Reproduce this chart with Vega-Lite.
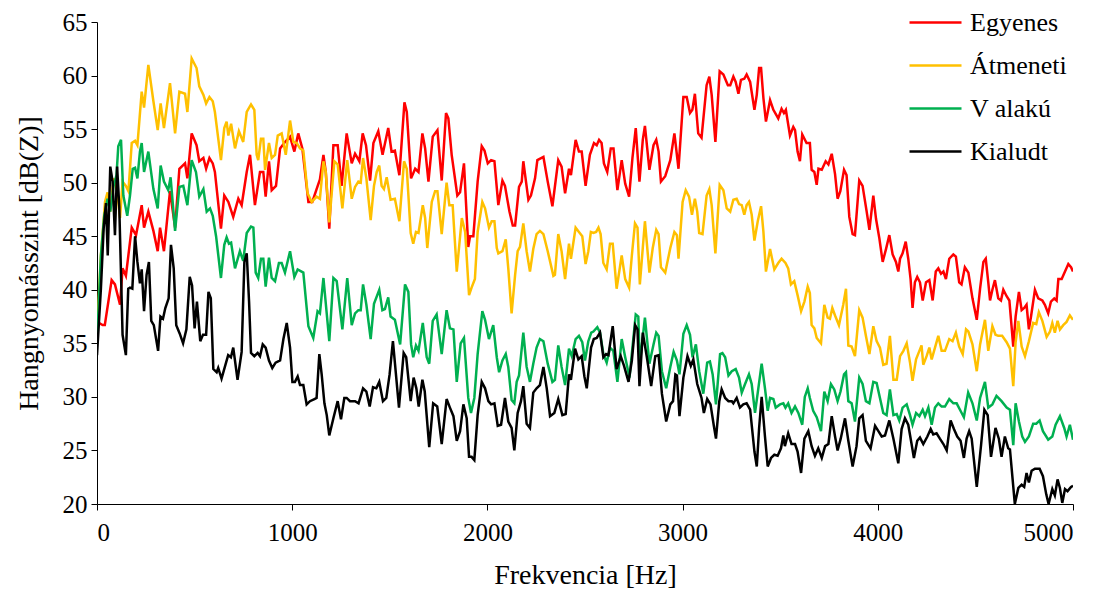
{
"$schema":"https://vega.github.io/schema/vega-lite/v6.json",
"width":976,"height":482,
"autosize":{"type":"none"},
"padding":{"left":97,"top":22,"right":33,"bottom":85},
"background":"white",
"config":{"view":{"stroke":null},"font":"Liberation Serif",
"style":{"guide-label":{"font":"Liberation Serif"},"guide-title":{"font":"Liberation Serif"}},
"axis":{"domainColor":"#000000","tickColor":"#000000","tickSize":6,"labelFont":"Liberation Serif","titleFont":"Liberation Serif","labelFontSize":25,"titleFontSize":28,"labelColor":"#000000","titleColor":"#000000","titleFontWeight":"normal","labelPadding":4,"grid":false},
"legend":{"orient":"none","legendX":811,"legendY":-27,"symbolType":"stroke","symbolSize":2704,"symbolStrokeWidth":2.5,"labelFont":"Liberation Serif","labelFontSize":26,"labelColor":"#000000","labelOffset":7,"padding":0,"title":null}},
"datasets":{
"E":[{"f":0,"v":37.0},{"f":29,"v":36.7},{"f":40,"v":36.7},{"f":75,"v":40.9},{"f":92,"v":40.5},{"f":118,"v":38.6},{"f":131,"v":42.0},{"f":148,"v":41.3},{"f":178,"v":45.8},{"f":200,"v":45.1},{"f":229,"v":47.9},{"f":241,"v":45.8},{"f":263,"v":47.3},{"f":289,"v":45.5},{"f":311,"v":43.6},{"f":323,"v":45.8},{"f":343,"v":43.6},{"f":374,"v":49.2},{"f":400,"v":45.8},{"f":422,"v":51.3},{"f":451,"v":51.8},{"f":463,"v":50.4},{"f":485,"v":54.6},{"f":510,"v":53.5},{"f":524,"v":52.0},{"f":545,"v":52.3},{"f":559,"v":51.3},{"f":576,"v":52.3},{"f":593,"v":51.8},{"f":604,"v":51.0},{"f":635,"v":45.7},{"f":652,"v":48.8},{"f":673,"v":48.2},{"f":698,"v":46.8},{"f":724,"v":48.5},{"f":741,"v":47.9},{"f":767,"v":51.0},{"f":784,"v":52.6},{"f":809,"v":47.9},{"f":835,"v":51.0},{"f":852,"v":51.0},{"f":864,"v":48.7},{"f":881,"v":52.0},{"f":895,"v":49.3},{"f":917,"v":49.7},{"f":938,"v":53.2},{"f":963,"v":53.8},{"f":989,"v":54.3},{"f":1011,"v":52.9},{"f":1031,"v":54.6},{"f":1052,"v":53.2},{"f":1083,"v":48.2},{"f":1103,"v":48.2},{"f":1125,"v":49.4},{"f":1142,"v":50.3},{"f":1160,"v":52.6},{"f":1172,"v":51.0},{"f":1190,"v":45.7},{"f":1211,"v":53.5},{"f":1233,"v":53.5},{"f":1253,"v":49.7},{"f":1279,"v":54.6},{"f":1305,"v":51.8},{"f":1322,"v":52.7},{"f":1344,"v":52.0},{"f":1361,"v":54.6},{"f":1378,"v":53.5},{"f":1399,"v":50.2},{"f":1416,"v":53.7},{"f":1441,"v":54.8},{"f":1463,"v":52.6},{"f":1492,"v":55.1},{"f":1509,"v":52.9},{"f":1526,"v":53.0},{"f":1549,"v":50.7},{"f":1575,"v":57.5},{"f":1587,"v":56.6},{"f":1609,"v":50.4},{"f":1630,"v":51.3},{"f":1647,"v":51.0},{"f":1667,"v":54.6},{"f":1681,"v":53.2},{"f":1698,"v":50.1},{"f":1720,"v":54.3},{"f":1744,"v":54.9},{"f":1766,"v":50.2},{"f":1788,"v":56.5},{"f":1800,"v":56.0},{"f":1817,"v":52.6},{"f":1846,"v":48.8},{"f":1860,"v":49.1},{"f":1880,"v":51.8},{"f":1902,"v":44.0},{"f":1911,"v":45.0},{"f":1928,"v":45.0},{"f":1950,"v":50.1},{"f":1971,"v":53.4},{"f":1985,"v":53.0},{"f":2002,"v":51.8},{"f":2019,"v":52.1},{"f":2036,"v":52.0},{"f":2056,"v":47.9},{"f":2077,"v":50.2},{"f":2090,"v":49.7},{"f":2113,"v":47.3},{"f":2130,"v":46.0},{"f":2142,"v":46.0},{"f":2162,"v":49.6},{"f":2176,"v":50.1},{"f":2184,"v":52.0},{"f":2210,"v":48.4},{"f":2223,"v":48.8},{"f":2244,"v":50.4},{"f":2256,"v":52.1},{"f":2287,"v":52.4},{"f":2309,"v":50.1},{"f":2333,"v":47.8},{"f":2363,"v":52.1},{"f":2380,"v":51.5},{"f":2398,"v":49.0},{"f":2418,"v":51.3},{"f":2428,"v":50.7},{"f":2452,"v":54.0},{"f":2469,"v":52.9},{"f":2483,"v":52.9},{"f":2503,"v":49.7},{"f":2525,"v":52.6},{"f":2546,"v":53.7},{"f":2560,"v":53.5},{"f":2572,"v":54.0},{"f":2585,"v":53.7},{"f":2597,"v":51.8},{"f":2614,"v":51.0},{"f":2632,"v":53.2},{"f":2646,"v":53.2},{"f":2666,"v":49.3},{"f":2688,"v":52.1},{"f":2706,"v":49.9},{"f":2726,"v":48.7},{"f":2743,"v":52.3},{"f":2760,"v":55.1},{"f":2779,"v":50.1},{"f":2796,"v":54.0},{"f":2807,"v":55.3},{"f":2830,"v":51.2},{"f":2851,"v":53.5},{"f":2865,"v":54.0},{"f":2877,"v":52.9},{"f":2889,"v":50.1},{"f":2911,"v":50.6},{"f":2937,"v":52.1},{"f":2958,"v":54.6},{"f":2979,"v":51.3},{"f":3004,"v":58.0},{"f":3021,"v":58.0},{"f":3038,"v":56.5},{"f":3050,"v":56.8},{"f":3063,"v":58.3},{"f":3080,"v":54.6},{"f":3097,"v":54.2},{"f":3123,"v":59.1},{"f":3137,"v":59.9},{"f":3149,"v":58.2},{"f":3168,"v":53.8},{"f":3190,"v":60.4},{"f":3209,"v":60.1},{"f":3232,"v":59.1},{"f":3244,"v":59.1},{"f":3260,"v":59.9},{"f":3272,"v":59.4},{"f":3286,"v":58.3},{"f":3299,"v":59.6},{"f":3316,"v":59.7},{"f":3328,"v":60.1},{"f":3346,"v":59.4},{"f":3368,"v":56.8},{"f":3380,"v":58.2},{"f":3392,"v":60.7},{"f":3402,"v":60.7},{"f":3414,"v":57.9},{"f":3427,"v":55.7},{"f":3448,"v":57.7},{"f":3465,"v":56.8},{"f":3490,"v":56.0},{"f":3507,"v":56.9},{"f":3519,"v":56.5},{"f":3529,"v":56.8},{"f":3550,"v":54.4},{"f":3567,"v":55.2},{"f":3576,"v":54.9},{"f":3589,"v":52.9},{"f":3601,"v":52.0},{"f":3613,"v":54.5},{"f":3635,"v":53.7},{"f":3652,"v":53.7},{"f":3661,"v":51.2},{"f":3675,"v":51.0},{"f":3687,"v":49.8},{"f":3696,"v":51.3},{"f":3713,"v":51.2},{"f":3733,"v":52.0},{"f":3747,"v":51.7},{"f":3764,"v":52.7},{"f":3781,"v":50.8},{"f":3794,"v":48.5},{"f":3808,"v":49.2},{"f":3827,"v":51.2},{"f":3840,"v":50.7},{"f":3854,"v":46.8},{"f":3871,"v":45.2},{"f":3883,"v":45.1},{"f":3905,"v":50.2},{"f":3922,"v":49.7},{"f":3943,"v":47.3},{"f":3957,"v":45.6},{"f":3977,"v":48.8},{"f":3991,"v":46.6},{"f":4008,"v":44.8},{"f":4025,"v":42.6},{"f":4042,"v":43.8},{"f":4059,"v":45.1},{"f":4076,"v":43.3},{"f":4093,"v":42.6},{"f":4105,"v":41.7},{"f":4114,"v":42.9},{"f":4127,"v":43.4},{"f":4143,"v":44.5},{"f":4156,"v":42.9},{"f":4168,"v":41.0},{"f":4178,"v":38.3},{"f":4190,"v":40.7},{"f":4202,"v":41.2},{"f":4216,"v":40.7},{"f":4230,"v":39.0},{"f":4247,"v":40.7},{"f":4264,"v":40.9},{"f":4281,"v":39.0},{"f":4297,"v":41.7},{"f":4310,"v":42.0},{"f":4324,"v":41.5},{"f":4336,"v":41.7},{"f":4349,"v":41.0},{"f":4366,"v":42.9},{"f":4387,"v":43.3},{"f":4400,"v":43.1},{"f":4417,"v":40.7},{"f":4429,"v":40.5},{"f":4446,"v":42.1},{"f":4464,"v":41.6},{"f":4485,"v":39.2},{"f":4507,"v":37.2},{"f":4524,"v":40.1},{"f":4541,"v":42.6},{"f":4553,"v":42.9},{"f":4566,"v":40.7},{"f":4575,"v":39.0},{"f":4587,"v":40.0},{"f":4600,"v":40.9},{"f":4617,"v":39.2},{"f":4631,"v":39.0},{"f":4643,"v":40.0},{"f":4660,"v":39.4},{"f":4674,"v":39.0},{"f":4694,"v":34.7},{"f":4706,"v":37.5},{"f":4723,"v":39.8},{"f":4737,"v":38.1},{"f":4750,"v":38.3},{"f":4762,"v":38.6},{"f":4774,"v":36.3},{"f":4785,"v":37.5},{"f":4805,"v":40.0},{"f":4822,"v":39.2},{"f":4843,"v":39.0},{"f":4856,"v":38.6},{"f":4873,"v":37.8},{"f":4887,"v":38.9},{"f":4904,"v":39.2},{"f":4916,"v":39.0},{"f":4925,"v":41.0},{"f":4942,"v":41.0},{"f":4959,"v":41.7},{"f":4976,"v":42.4},{"f":4990,"v":42.1},{"f":5000,"v":41.7}],
"A":[{"f":0,"v":36.0},{"f":20,"v":43.2},{"f":41,"v":48.2},{"f":54,"v":49.1},{"f":68,"v":47.3},{"f":85,"v":50.4},{"f":103,"v":49.2},{"f":118,"v":46.7},{"f":131,"v":50.1},{"f":148,"v":49.7},{"f":161,"v":49.2},{"f":178,"v":53.7},{"f":195,"v":53.9},{"f":207,"v":53.5},{"f":229,"v":58.5},{"f":241,"v":57.0},{"f":263,"v":61.0},{"f":289,"v":57.6},{"f":311,"v":54.9},{"f":326,"v":57.4},{"f":343,"v":55.1},{"f":374,"v":59.3},{"f":400,"v":54.6},{"f":422,"v":58.5},{"f":451,"v":58.3},{"f":463,"v":56.6},{"f":485,"v":61.6},{"f":510,"v":60.7},{"f":524,"v":59.0},{"f":545,"v":58.2},{"f":559,"v":57.4},{"f":576,"v":58.0},{"f":593,"v":57.6},{"f":604,"v":56.6},{"f":635,"v":52.1},{"f":652,"v":55.1},{"f":664,"v":55.7},{"f":673,"v":54.4},{"f":687,"v":55.5},{"f":707,"v":53.2},{"f":727,"v":54.8},{"f":749,"v":53.8},{"f":767,"v":56.6},{"f":789,"v":57.3},{"f":806,"v":56.8},{"f":818,"v":52.6},{"f":826,"v":52.1},{"f":840,"v":54.1},{"f":852,"v":54.1},{"f":861,"v":51.2},{"f":881,"v":53.7},{"f":895,"v":52.3},{"f":912,"v":52.6},{"f":926,"v":54.4},{"f":946,"v":54.6},{"f":967,"v":52.6},{"f":989,"v":55.8},{"f":1006,"v":53.8},{"f":1023,"v":53.7},{"f":1040,"v":53.2},{"f":1057,"v":53.0},{"f":1079,"v":49.0},{"f":1100,"v":48.2},{"f":1125,"v":48.7},{"f":1142,"v":48.5},{"f":1160,"v":52.0},{"f":1172,"v":51.0},{"f":1190,"v":46.3},{"f":1216,"v":52.0},{"f":1233,"v":51.7},{"f":1257,"v":47.6},{"f":1282,"v":52.1},{"f":1305,"v":48.5},{"f":1322,"v":49.6},{"f":1339,"v":50.1},{"f":1351,"v":50.0},{"f":1363,"v":52.3},{"f":1380,"v":50.4},{"f":1402,"v":46.5},{"f":1419,"v":49.7},{"f":1433,"v":51.0},{"f":1446,"v":51.6},{"f":1458,"v":49.7},{"f":1470,"v":49.4},{"f":1484,"v":50.5},{"f":1504,"v":48.4},{"f":1526,"v":48.5},{"f":1549,"v":46.4},{"f":1573,"v":52.0},{"f":1587,"v":51.3},{"f":1607,"v":45.3},{"f":1620,"v":44.3},{"f":1634,"v":45.4},{"f":1647,"v":45.3},{"f":1669,"v":47.9},{"f":1681,"v":46.7},{"f":1692,"v":43.9},{"f":1715,"v":48.2},{"f":1732,"v":49.2},{"f":1744,"v":49.2},{"f":1766,"v":45.2},{"f":1791,"v":50.0},{"f":1805,"v":47.9},{"f":1822,"v":47.9},{"f":1843,"v":41.7},{"f":1869,"v":46.7},{"f":1886,"v":45.4},{"f":1906,"v":39.5},{"f":1919,"v":40.2},{"f":1936,"v":41.0},{"f":1950,"v":45.4},{"f":1974,"v":48.2},{"f":1988,"v":47.6},{"f":2008,"v":45.8},{"f":2022,"v":46.4},{"f":2036,"v":46.4},{"f":2048,"v":43.9},{"f":2056,"v":43.4},{"f":2077,"v":43.6},{"f":2094,"v":44.7},{"f":2107,"v":42.0},{"f":2124,"v":37.8},{"f":2142,"v":41.4},{"f":2155,"v":43.6},{"f":2167,"v":44.0},{"f":2184,"v":46.2},{"f":2201,"v":43.6},{"f":2218,"v":41.7},{"f":2235,"v":43.8},{"f":2252,"v":45.2},{"f":2269,"v":45.5},{"f":2287,"v":45.2},{"f":2309,"v":43.6},{"f":2338,"v":41.3},{"f":2346,"v":41.4},{"f":2363,"v":45.2},{"f":2380,"v":43.6},{"f":2398,"v":41.0},{"f":2418,"v":44.3},{"f":2428,"v":42.9},{"f":2452,"v":45.8},{"f":2469,"v":45.4},{"f":2486,"v":45.0},{"f":2503,"v":42.4},{"f":2517,"v":43.6},{"f":2530,"v":45.4},{"f":2543,"v":45.3},{"f":2557,"v":45.4},{"f":2569,"v":45.8},{"f":2580,"v":45.2},{"f":2594,"v":42.5},{"f":2611,"v":41.9},{"f":2628,"v":44.3},{"f":2642,"v":44.3},{"f":2662,"v":40.1},{"f":2688,"v":43.2},{"f":2706,"v":41.0},{"f":2726,"v":40.2},{"f":2740,"v":43.2},{"f":2756,"v":46.2},{"f":2769,"v":45.8},{"f":2781,"v":40.5},{"f":2796,"v":43.9},{"f":2807,"v":46.4},{"f":2830,"v":41.6},{"f":2847,"v":43.9},{"f":2865,"v":45.6},{"f":2877,"v":45.2},{"f":2889,"v":42.1},{"f":2911,"v":41.6},{"f":2937,"v":43.9},{"f":2958,"v":45.4},{"f":2971,"v":45.1},{"f":2979,"v":42.9},{"f":3000,"v":48.2},{"f":3016,"v":49.3},{"f":3033,"v":48.7},{"f":3048,"v":47.0},{"f":3063,"v":48.5},{"f":3075,"v":47.3},{"f":3085,"v":45.3},{"f":3102,"v":45.2},{"f":3123,"v":48.8},{"f":3137,"v":49.4},{"f":3149,"v":47.9},{"f":3168,"v":43.4},{"f":3190,"v":49.8},{"f":3209,"v":49.3},{"f":3226,"v":47.6},{"f":3244,"v":47.3},{"f":3260,"v":48.4},{"f":3277,"v":48.5},{"f":3289,"v":48.0},{"f":3303,"v":47.9},{"f":3316,"v":47.0},{"f":3328,"v":47.9},{"f":3340,"v":48.2},{"f":3354,"v":47.0},{"f":3368,"v":44.6},{"f":3385,"v":46.4},{"f":3402,"v":47.8},{"f":3414,"v":45.4},{"f":3427,"v":41.7},{"f":3448,"v":43.8},{"f":3470,"v":41.9},{"f":3490,"v":42.5},{"f":3507,"v":42.9},{"f":3527,"v":42.5},{"f":3541,"v":42.0},{"f":3555,"v":40.5},{"f":3572,"v":40.8},{"f":3589,"v":39.5},{"f":3607,"v":38.0},{"f":3624,"v":38.9},{"f":3641,"v":40.3},{"f":3652,"v":39.7},{"f":3661,"v":36.7},{"f":3675,"v":36.4},{"f":3687,"v":35.5},{"f":3709,"v":35.0},{"f":3726,"v":38.6},{"f":3743,"v":37.4},{"f":3755,"v":37.3},{"f":3767,"v":38.3},{"f":3781,"v":37.6},{"f":3801,"v":36.7},{"f":3823,"v":38.6},{"f":3837,"v":40.1},{"f":3849,"v":34.8},{"f":3866,"v":34.7},{"f":3883,"v":33.8},{"f":3905,"v":38.1},{"f":3922,"v":37.4},{"f":3939,"v":35.7},{"f":3957,"v":34.0},{"f":3977,"v":36.6},{"f":3994,"v":35.2},{"f":4011,"v":34.6},{"f":4028,"v":33.0},{"f":4045,"v":33.1},{"f":4062,"v":35.7},{"f":4080,"v":31.6},{"f":4097,"v":31.6},{"f":4114,"v":33.8},{"f":4131,"v":34.3},{"f":4148,"v":35.0},{"f":4165,"v":33.2},{"f":4178,"v":31.5},{"f":4196,"v":33.5},{"f":4213,"v":34.3},{"f":4224,"v":34.8},{"f":4233,"v":33.0},{"f":4250,"v":33.8},{"f":4264,"v":34.6},{"f":4276,"v":33.5},{"f":4293,"v":34.6},{"f":4310,"v":35.7},{"f":4327,"v":34.3},{"f":4344,"v":34.3},{"f":4366,"v":35.4},{"f":4383,"v":35.2},{"f":4400,"v":36.0},{"f":4417,"v":34.7},{"f":4435,"v":34.0},{"f":4452,"v":36.3},{"f":4464,"v":36.1},{"f":4485,"v":34.9},{"f":4507,"v":32.4},{"f":4524,"v":34.9},{"f":4549,"v":37.2},{"f":4566,"v":34.3},{"f":4587,"v":36.6},{"f":4603,"v":35.8},{"f":4617,"v":35.7},{"f":4637,"v":35.7},{"f":4660,"v":35.1},{"f":4677,"v":34.5},{"f":4694,"v":31.0},{"f":4706,"v":35.1},{"f":4720,"v":37.1},{"f":4737,"v":34.7},{"f":4754,"v":33.8},{"f":4774,"v":35.2},{"f":4796,"v":36.9},{"f":4812,"v":36.8},{"f":4825,"v":37.9},{"f":4843,"v":37.1},{"f":4865,"v":35.6},{"f":4882,"v":36.1},{"f":4894,"v":36.9},{"f":4907,"v":36.0},{"f":4921,"v":37.1},{"f":4933,"v":36.3},{"f":4950,"v":36.7},{"f":4967,"v":37.0},{"f":4984,"v":37.6},{"f":5000,"v":37.2}],
"V":[{"f":0,"v":35.0},{"f":20,"v":43.2},{"f":37,"v":46.9},{"f":54,"v":48.5},{"f":68,"v":47.3},{"f":85,"v":49.7},{"f":100,"v":50.7},{"f":109,"v":53.4},{"f":123,"v":54.0},{"f":135,"v":48.8},{"f":155,"v":46.9},{"f":169,"v":48.8},{"f":183,"v":51.3},{"f":195,"v":51.4},{"f":207,"v":50.4},{"f":220,"v":52.9},{"f":229,"v":53.7},{"f":241,"v":51.0},{"f":263,"v":52.9},{"f":289,"v":49.4},{"f":311,"v":47.6},{"f":326,"v":51.6},{"f":343,"v":50.1},{"f":365,"v":49.3},{"f":377,"v":50.5},{"f":400,"v":45.5},{"f":422,"v":49.6},{"f":442,"v":49.7},{"f":463,"v":47.9},{"f":485,"v":52.1},{"f":507,"v":51.0},{"f":524,"v":48.7},{"f":545,"v":49.4},{"f":562,"v":47.3},{"f":579,"v":47.6},{"f":593,"v":46.9},{"f":610,"v":45.0},{"f":635,"v":41.1},{"f":652,"v":44.2},{"f":664,"v":44.9},{"f":676,"v":44.3},{"f":687,"v":44.4},{"f":707,"v":42.0},{"f":732,"v":43.6},{"f":749,"v":42.7},{"f":767,"v":45.3},{"f":789,"v":45.9},{"f":801,"v":45.8},{"f":813,"v":41.6},{"f":826,"v":41.1},{"f":840,"v":42.9},{"f":852,"v":42.9},{"f":864,"v":40.3},{"f":881,"v":43.0},{"f":895,"v":41.1},{"f":912,"v":40.8},{"f":932,"v":42.5},{"f":946,"v":42.5},{"f":963,"v":41.6},{"f":989,"v":43.6},{"f":1011,"v":41.2},{"f":1028,"v":41.9},{"f":1057,"v":41.6},{"f":1083,"v":36.6},{"f":1108,"v":35.5},{"f":1130,"v":38.0},{"f":1142,"v":37.8},{"f":1160,"v":41.1},{"f":1190,"v":35.2},{"f":1211,"v":41.1},{"f":1228,"v":40.8},{"f":1257,"v":36.3},{"f":1282,"v":41.1},{"f":1305,"v":36.7},{"f":1322,"v":37.8},{"f":1339,"v":38.1},{"f":1351,"v":38.1},{"f":1363,"v":40.5},{"f":1380,"v":38.6},{"f":1402,"v":35.4},{"f":1419,"v":38.7},{"f":1446,"v":40.0},{"f":1462,"v":38.1},{"f":1475,"v":38.2},{"f":1492,"v":39.3},{"f":1504,"v":37.5},{"f":1526,"v":37.2},{"f":1553,"v":34.9},{"f":1578,"v":40.5},{"f":1595,"v":39.8},{"f":1609,"v":34.9},{"f":1620,"v":33.7},{"f":1634,"v":34.8},{"f":1647,"v":34.3},{"f":1669,"v":36.9},{"f":1689,"v":33.7},{"f":1702,"v":33.1},{"f":1720,"v":37.1},{"f":1740,"v":37.7},{"f":1766,"v":34.0},{"f":1791,"v":38.1},{"f":1808,"v":36.4},{"f":1826,"v":36.3},{"f":1843,"v":31.4},{"f":1863,"v":35.0},{"f":1880,"v":35.5},{"f":1902,"v":29.9},{"f":1916,"v":28.5},{"f":1933,"v":29.9},{"f":1950,"v":34.0},{"f":1974,"v":38.0},{"f":1988,"v":37.2},{"f":2008,"v":35.4},{"f":2030,"v":36.7},{"f":2048,"v":33.7},{"f":2060,"v":32.3},{"f":2077,"v":33.4},{"f":2094,"v":34.0},{"f":2107,"v":32.8},{"f":2124,"v":29.7},{"f":2138,"v":29.4},{"f":2150,"v":31.4},{"f":2162,"v":32.0},{"f":2184,"v":36.0},{"f":2201,"v":32.8},{"f":2218,"v":31.4},{"f":2235,"v":33.1},{"f":2252,"v":34.6},{"f":2269,"v":35.4},{"f":2287,"v":35.2},{"f":2309,"v":33.1},{"f":2333,"v":31.4},{"f":2346,"v":31.6},{"f":2363,"v":34.8},{"f":2380,"v":32.8},{"f":2398,"v":31.1},{"f":2418,"v":34.5},{"f":2432,"v":33.8},{"f":2452,"v":35.4},{"f":2469,"v":35.7},{"f":2486,"v":35.1},{"f":2500,"v":33.4},{"f":2517,"v":35.2},{"f":2532,"v":36.0},{"f":2543,"v":36.1},{"f":2563,"v":36.5},{"f":2577,"v":36.0},{"f":2594,"v":34.0},{"f":2611,"v":33.2},{"f":2628,"v":34.6},{"f":2645,"v":34.3},{"f":2666,"v":31.4},{"f":2688,"v":35.4},{"f":2706,"v":33.7},{"f":2728,"v":31.8},{"f":2743,"v":34.6},{"f":2760,"v":37.7},{"f":2773,"v":37.5},{"f":2781,"v":33.1},{"f":2807,"v":37.4},{"f":2830,"v":33.1},{"f":2851,"v":34.9},{"f":2865,"v":36.0},{"f":2877,"v":35.7},{"f":2894,"v":32.4},{"f":2916,"v":30.8},{"f":2937,"v":32.8},{"f":2954,"v":34.2},{"f":2971,"v":33.4},{"f":2984,"v":32.1},{"f":3004,"v":35.9},{"f":3021,"v":36.7},{"f":3038,"v":35.8},{"f":3051,"v":33.7},{"f":3068,"v":34.9},{"f":3085,"v":32.4},{"f":3106,"v":30.3},{"f":3126,"v":33.2},{"f":3140,"v":33.3},{"f":3154,"v":32.1},{"f":3171,"v":29.3},{"f":3192,"v":34.0},{"f":3204,"v":34.1},{"f":3218,"v":33.7},{"f":3235,"v":32.0},{"f":3252,"v":32.4},{"f":3272,"v":32.6},{"f":3289,"v":31.8},{"f":3303,"v":30.4},{"f":3320,"v":31.2},{"f":3340,"v":32.1},{"f":3354,"v":31.2},{"f":3371,"v":28.5},{"f":3388,"v":30.8},{"f":3405,"v":33.1},{"f":3422,"v":30.8},{"f":3436,"v":28.7},{"f":3448,"v":29.9},{"f":3465,"v":29.8},{"f":3477,"v":29.0},{"f":3499,"v":29.3},{"f":3516,"v":29.4},{"f":3527,"v":29.0},{"f":3541,"v":29.4},{"f":3558,"v":28.5},{"f":3576,"v":29.1},{"f":3593,"v":28.5},{"f":3613,"v":27.4},{"f":3626,"v":30.0},{"f":3641,"v":30.8},{"f":3652,"v":29.9},{"f":3669,"v":28.7},{"f":3687,"v":28.1},{"f":3709,"v":26.8},{"f":3726,"v":30.5},{"f":3743,"v":29.6},{"f":3760,"v":31.2},{"f":3777,"v":30.7},{"f":3794,"v":29.6},{"f":3809,"v":30.5},{"f":3827,"v":32.1},{"f":3837,"v":32.3},{"f":3849,"v":29.6},{"f":3866,"v":29.4},{"f":3883,"v":27.7},{"f":3905,"v":31.8},{"f":3922,"v":31.2},{"f":3939,"v":29.6},{"f":3957,"v":29.4},{"f":3977,"v":31.4},{"f":3994,"v":31.3},{"f":4011,"v":29.9},{"f":4028,"v":28.5},{"f":4045,"v":28.3},{"f":4062,"v":30.7},{"f":4080,"v":28.3},{"f":4097,"v":28.4},{"f":4110,"v":27.8},{"f":4127,"v":29.0},{"f":4148,"v":29.3},{"f":4165,"v":28.3},{"f":4178,"v":27.4},{"f":4196,"v":28.5},{"f":4213,"v":28.2},{"f":4230,"v":28.8},{"f":4242,"v":28.2},{"f":4259,"v":29.0},{"f":4276,"v":27.4},{"f":4293,"v":29.0},{"f":4310,"v":29.4},{"f":4327,"v":29.1},{"f":4344,"v":29.1},{"f":4366,"v":29.8},{"f":4387,"v":29.4},{"f":4404,"v":29.4},{"f":4421,"v":28.8},{"f":4441,"v":28.1},{"f":4463,"v":30.4},{"f":4485,"v":29.4},{"f":4507,"v":27.8},{"f":4524,"v":29.9},{"f":4549,"v":31.4},{"f":4566,"v":29.0},{"f":4587,"v":29.3},{"f":4608,"v":30.1},{"f":4634,"v":29.6},{"f":4660,"v":29.0},{"f":4677,"v":28.8},{"f":4694,"v":25.5},{"f":4706,"v":29.4},{"f":4723,"v":27.7},{"f":4740,"v":26.3},{"f":4754,"v":25.8},{"f":4774,"v":26.3},{"f":4796,"v":27.5},{"f":4812,"v":27.5},{"f":4829,"v":27.8},{"f":4846,"v":26.8},{"f":4873,"v":26.0},{"f":4894,"v":26.3},{"f":4911,"v":27.4},{"f":4933,"v":28.2},{"f":4955,"v":27.1},{"f":4967,"v":26.3},{"f":4984,"v":27.4},{"f":5000,"v":26.0}],
"K":[{"f":0,"v":33.9},{"f":20,"v":40.1},{"f":34,"v":45.7},{"f":46,"v":48.1},{"f":55,"v":43.2},{"f":68,"v":51.5},{"f":80,"v":50.1},{"f":92,"v":45.1},{"f":103,"v":51.5},{"f":114,"v":47.8},{"f":131,"v":35.8},{"f":148,"v":33.9},{"f":160,"v":40.1},{"f":169,"v":40.2},{"f":181,"v":40.1},{"f":195,"v":45.0},{"f":207,"v":42.6},{"f":220,"v":40.6},{"f":229,"v":41.9},{"f":241,"v":38.0},{"f":254,"v":41.4},{"f":266,"v":42.6},{"f":278,"v":37.1},{"f":291,"v":36.7},{"f":313,"v":34.3},{"f":325,"v":37.5},{"f":338,"v":37.3},{"f":350,"v":38.3},{"f":367,"v":39.2},{"f":379,"v":44.2},{"f":393,"v":42.0},{"f":406,"v":36.7},{"f":424,"v":35.9},{"f":441,"v":35.0},{"f":458,"v":36.3},{"f":475,"v":41.2},{"f":487,"v":40.4},{"f":500,"v":36.4},{"f":512,"v":38.9},{"f":529,"v":35.2},{"f":543,"v":35.8},{"f":559,"v":35.8},{"f":571,"v":39.8},{"f":583,"v":39.2},{"f":596,"v":32.6},{"f":613,"v":32.3},{"f":621,"v":32.7},{"f":638,"v":31.7},{"f":655,"v":32.8},{"f":672,"v":33.9},{"f":686,"v":33.7},{"f":698,"v":34.6},{"f":720,"v":31.6},{"f":741,"v":34.2},{"f":755,"v":42.6},{"f":767,"v":43.4},{"f":779,"v":38.9},{"f":789,"v":34.1},{"f":806,"v":33.8},{"f":823,"v":34.1},{"f":835,"v":33.8},{"f":849,"v":34.9},{"f":864,"v":34.6},{"f":881,"v":33.4},{"f":898,"v":32.7},{"f":915,"v":33.2},{"f":938,"v":33.4},{"f":955,"v":35.4},{"f":972,"v":36.9},{"f":989,"v":34.6},{"f":1001,"v":31.4},{"f":1014,"v":31.4},{"f":1028,"v":31.9},{"f":1040,"v":31.1},{"f":1057,"v":31.1},{"f":1074,"v":29.3},{"f":1091,"v":29.6},{"f":1114,"v":29.8},{"f":1125,"v":29.9},{"f":1139,"v":34.0},{"f":1151,"v":32.1},{"f":1165,"v":29.4},{"f":1177,"v":28.3},{"f":1190,"v":26.4},{"f":1211,"v":28.0},{"f":1233,"v":29.6},{"f":1250,"v":27.9},{"f":1267,"v":29.9},{"f":1279,"v":29.9},{"f":1296,"v":29.6},{"f":1322,"v":29.6},{"f":1340,"v":29.4},{"f":1363,"v":30.8},{"f":1380,"v":30.5},{"f":1397,"v":29.1},{"f":1414,"v":30.9},{"f":1431,"v":30.8},{"f":1446,"v":31.4},{"f":1465,"v":29.6},{"f":1482,"v":29.9},{"f":1499,"v":32.1},{"f":1516,"v":35.2},{"f":1530,"v":32.4},{"f":1547,"v":29.0},{"f":1571,"v":34.1},{"f":1584,"v":33.7},{"f":1607,"v":29.6},{"f":1622,"v":31.8},{"f":1636,"v":30.8},{"f":1648,"v":29.1},{"f":1667,"v":31.6},{"f":1679,"v":30.5},{"f":1702,"v":25.3},{"f":1722,"v":29.4},{"f":1743,"v":29.1},{"f":1766,"v":25.6},{"f":1791,"v":29.8},{"f":1808,"v":29.0},{"f":1826,"v":28.2},{"f":1843,"v":25.9},{"f":1860,"v":26.8},{"f":1877,"v":29.3},{"f":1894,"v":28.0},{"f":1906,"v":24.4},{"f":1919,"v":24.4},{"f":1933,"v":24.1},{"f":1950,"v":28.3},{"f":1971,"v":31.4},{"f":1988,"v":30.8},{"f":2005,"v":29.6},{"f":2019,"v":29.3},{"f":2036,"v":29.4},{"f":2053,"v":27.3},{"f":2070,"v":27.4},{"f":2090,"v":29.9},{"f":2107,"v":27.7},{"f":2124,"v":27.1},{"f":2138,"v":25.0},{"f":2155,"v":28.5},{"f":2172,"v":29.6},{"f":2184,"v":31.0},{"f":2201,"v":27.5},{"f":2218,"v":27.1},{"f":2235,"v":30.4},{"f":2252,"v":30.8},{"f":2269,"v":31.1},{"f":2287,"v":32.8},{"f":2304,"v":30.8},{"f":2321,"v":28.2},{"f":2343,"v":28.5},{"f":2363,"v":29.8},{"f":2384,"v":28.3},{"f":2401,"v":28.4},{"f":2418,"v":32.1},{"f":2428,"v":31.6},{"f":2449,"v":34.5},{"f":2466,"v":33.5},{"f":2483,"v":33.8},{"f":2497,"v":31.9},{"f":2509,"v":30.8},{"f":2531,"v":34.6},{"f":2545,"v":35.4},{"f":2560,"v":35.5},{"f":2577,"v":36.0},{"f":2594,"v":33.7},{"f":2608,"v":34.0},{"f":2620,"v":33.9},{"f":2642,"v":36.6},{"f":2662,"v":32.6},{"f":2683,"v":33.8},{"f":2700,"v":32.9},{"f":2723,"v":31.4},{"f":2740,"v":33.4},{"f":2757,"v":36.7},{"f":2769,"v":36.3},{"f":2779,"v":31.0},{"f":2796,"v":36.0},{"f":2817,"v":33.7},{"f":2839,"v":31.0},{"f":2860,"v":33.8},{"f":2877,"v":33.9},{"f":2894,"v":30.3},{"f":2916,"v":27.7},{"f":2937,"v":29.3},{"f":2951,"v":29.6},{"f":2963,"v":32.1},{"f":2971,"v":32.0},{"f":2984,"v":28.2},{"f":3004,"v":31.8},{"f":3025,"v":33.8},{"f":3042,"v":32.9},{"f":3055,"v":33.5},{"f":3075,"v":31.2},{"f":3097,"v":29.9},{"f":3109,"v":28.5},{"f":3126,"v":29.8},{"f":3143,"v":29.3},{"f":3160,"v":27.3},{"f":3171,"v":26.1},{"f":3188,"v":29.6},{"f":3200,"v":30.7},{"f":3218,"v":29.9},{"f":3235,"v":29.6},{"f":3252,"v":29.6},{"f":3260,"v":29.4},{"f":3277,"v":29.9},{"f":3294,"v":29.0},{"f":3311,"v":29.3},{"f":3328,"v":29.4},{"f":3346,"v":28.8},{"f":3368,"v":24.9},{"f":3380,"v":23.5},{"f":3392,"v":27.1},{"f":3405,"v":30.0},{"f":3422,"v":26.3},{"f":3436,"v":23.5},{"f":3453,"v":24.3},{"f":3470,"v":24.6},{"f":3487,"v":24.5},{"f":3504,"v":25.2},{"f":3516,"v":26.4},{"f":3524,"v":25.4},{"f":3541,"v":26.6},{"f":3558,"v":25.6},{"f":3576,"v":25.6},{"f":3589,"v":24.9},{"f":3607,"v":22.9},{"f":3624,"v":26.1},{"f":3644,"v":26.8},{"f":3661,"v":25.4},{"f":3678,"v":24.5},{"f":3695,"v":25.2},{"f":3713,"v":24.3},{"f":3730,"v":25.4},{"f":3747,"v":25.6},{"f":3764,"v":28.2},{"f":3781,"v":26.3},{"f":3794,"v":25.0},{"f":3810,"v":26.1},{"f":3832,"v":28.0},{"f":3849,"v":25.9},{"f":3871,"v":23.5},{"f":3891,"v":25.4},{"f":3905,"v":28.0},{"f":3922,"v":28.3},{"f":3939,"v":25.9},{"f":3963,"v":25.2},{"f":3986,"v":27.3},{"f":4003,"v":26.8},{"f":4020,"v":26.3},{"f":4037,"v":26.4},{"f":4059,"v":27.8},{"f":4080,"v":26.1},{"f":4105,"v":23.8},{"f":4122,"v":27.0},{"f":4139,"v":28.0},{"f":4156,"v":27.4},{"f":4173,"v":25.6},{"f":4185,"v":24.3},{"f":4202,"v":25.9},{"f":4216,"v":26.2},{"f":4233,"v":25.6},{"f":4254,"v":26.3},{"f":4271,"v":27.0},{"f":4284,"v":26.5},{"f":4301,"v":26.6},{"f":4318,"v":26.1},{"f":4336,"v":25.6},{"f":4353,"v":25.0},{"f":4373,"v":27.8},{"f":4390,"v":27.0},{"f":4407,"v":26.3},{"f":4424,"v":25.9},{"f":4441,"v":24.3},{"f":4455,"v":26.1},{"f":4468,"v":26.8},{"f":4481,"v":26.1},{"f":4507,"v":21.6},{"f":4529,"v":25.5},{"f":4546,"v":28.8},{"f":4563,"v":28.3},{"f":4580,"v":24.4},{"f":4603,"v":27.1},{"f":4620,"v":26.1},{"f":4634,"v":24.4},{"f":4651,"v":26.3},{"f":4668,"v":25.2},{"f":4677,"v":25.1},{"f":4702,"v":20.0},{"f":4720,"v":21.5},{"f":4737,"v":21.8},{"f":4750,"v":21.6},{"f":4762,"v":22.9},{"f":4774,"v":22.0},{"f":4788,"v":23.1},{"f":4805,"v":23.3},{"f":4829,"v":23.3},{"f":4846,"v":22.6},{"f":4863,"v":20.9},{"f":4875,"v":20.0},{"f":4894,"v":21.4},{"f":4907,"v":20.8},{"f":4921,"v":22.3},{"f":4933,"v":21.5},{"f":4945,"v":20.1},{"f":4959,"v":21.4},{"f":4972,"v":21.2},{"f":4990,"v":21.6},{"f":5000,"v":21.7}]
},
"encoding":{
"x":{"field":"f","type":"quantitative","scale":{"domain":[0,5000],"nice":false,"zero":false},"axis":{"values":[0,1000,2000,3000,4000,5000],"format":"d","labelPadding":10,"title":"Frekvencia [Hz]","titlePadding":16,"encode":{"labels":{"update":{"font":{"value":"Liberation Serif"}}}}}},
"y":{"field":"v","type":"quantitative","scale":{"domain":[20,65],"nice":false,"zero":false},"axis":{"values":[20,25,30,35,40,45,50,55,60,65],"format":"d","title":"Hangnyomásszint [dB(Z)]","titlePadding":19,"encode":{"labels":{"update":{"font":{"value":"Liberation Serif"}}}}}}
},
"layer":[
{"data":{"name":"E"},"mark":{"type":"line","strokeWidth":2.5,"clip":true},"encoding":{"color":{"datum":"Egyenes","type":"nominal","scale":{"domain":["Egyenes","Átmeneti","V alakú","Kialudt"],"range":["#FF0000","#FFC000","#00B050","#000000"]},"legend":{"rowPadding":2,"encode":{"labels":{"update":{"font":{"value":"Liberation Serif"}}}}}}}},
{"data":{"name":"A"},"mark":{"type":"line","strokeWidth":2.5,"clip":true},"encoding":{"color":{"datum":"Átmeneti","type":"nominal"}}},
{"data":{"name":"V"},"mark":{"type":"line","strokeWidth":2.5,"clip":true},"encoding":{"color":{"datum":"V alakú","type":"nominal"}}},
{"data":{"name":"K"},"mark":{"type":"line","strokeWidth":2.5,"clip":true},"encoding":{"color":{"datum":"Kialudt","type":"nominal"}}}
]
}
